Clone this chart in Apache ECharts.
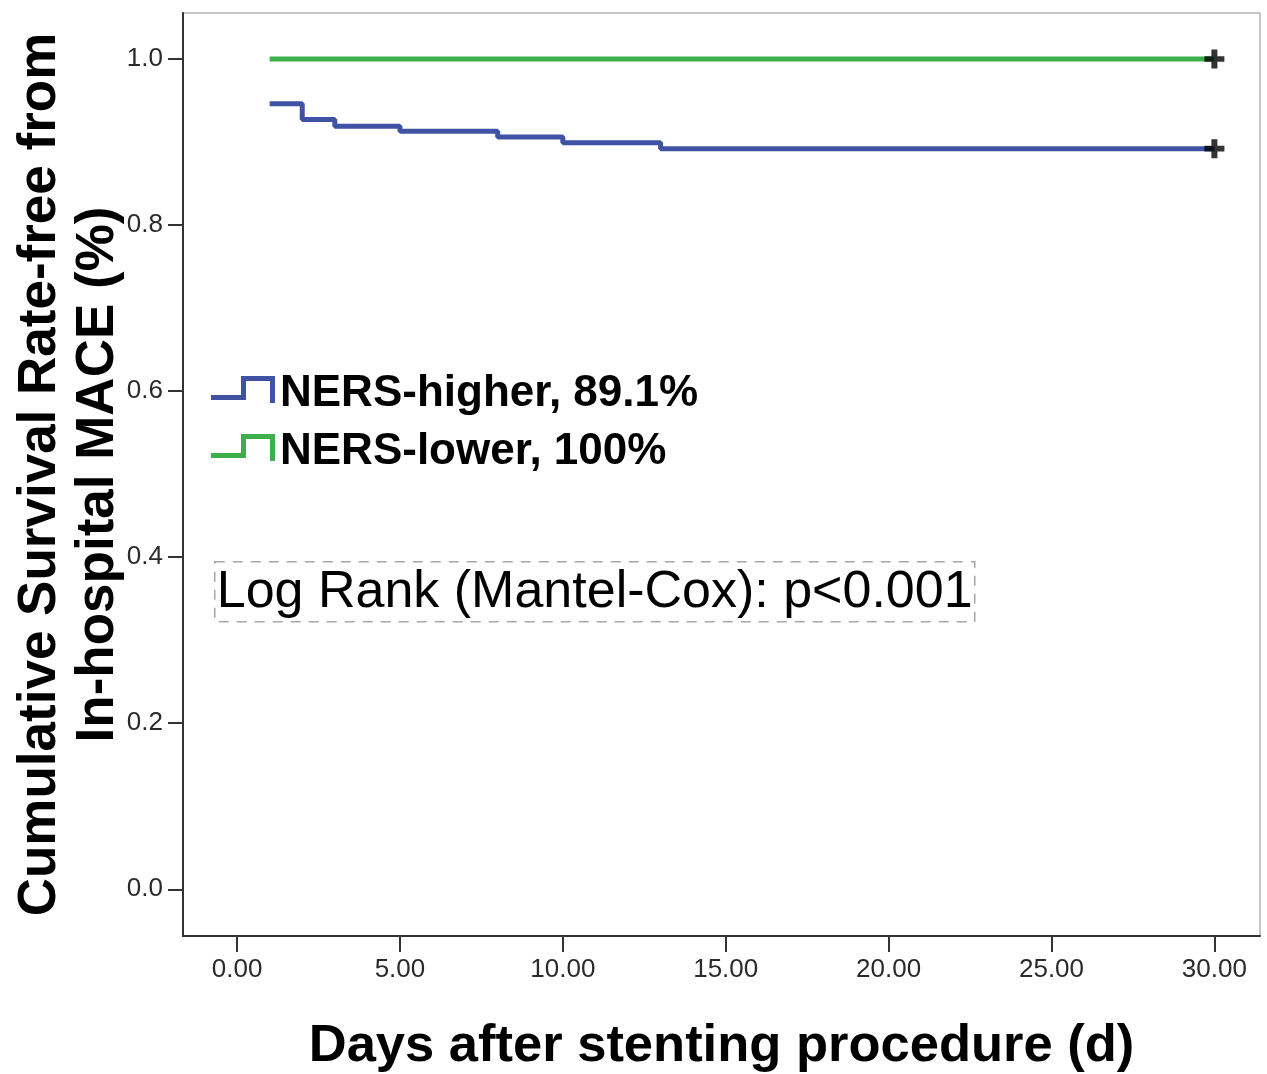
<!DOCTYPE html>
<html><head><meta charset="utf-8">
<script src="https://cdn.jsdelivr.net/npm/echarts@6/dist/echarts.min.js"></script>
<style>html,body{margin:0;padding:0;background:#fff}#c{width:1267px;height:1074px}</style>
</head><body><div id="c"></div>
<script>
// Data
const higherDays = [1, 2, 3, 5, 8, 10, 13, 30];
const higherSurv = [0.946, 0.927, 0.919, 0.913, 0.906, 0.899, 0.892, 0.892];
const lowerDays = [1, 30];
const lowerSurv = [1.0, 1.0];
const censorDays = [30, 30];
const censorSurv = [1.0, 0.892];
const xTicks = [0, 5, 10, 15, 20, 25, 30];
const yTicks = [0, 0.2, 0.4, 0.6, 0.8, 1.0];
const seriesNames = ['NERS-higher, 89.1%', 'NERS-lower, 100%'];
const annotation = 'Log Rank (Mantel-Cox): p<0.001';

const FONT = '"Liberation Sans", Arial, sans-serif';
const zip = (a, b) => a.map((v, i) => [v, b[i]]);

const chart = echarts.init(document.getElementById('c'));
chart.setOption({
  animation: false,
  backgroundColor: '#fff',
  grid: { left: 183, right: 7, top: 13, bottom: 138, show: true, borderColor: '#b4b4b4', borderWidth: 1.5,
          containLabel: false, outerBoundsMode: 'none' },
  xAxis: {
    type: 'value', min: -1.66, max: 31.4,
    splitLine: { show: false },
    axisLine: { show: true, onZero: false, lineStyle: { color: '#333', width: 2 } },
    axisTick: { show: true, length: 16, lineStyle: { color: '#333', width: 2 }, customValues: xTicks },
    axisLabel: { customValues: xTicks, formatter: v => v.toFixed(2), fontSize: 26, color: '#2a2a2a', fontFamily: FONT, margin: 21 },
    name: 'Days after stenting procedure (d)', nameLocation: 'middle', nameGap: 84, nameMoveOverlap: false,
    nameTextStyle: { fontSize: 52.5, fontWeight: 'bold', color: '#000', fontFamily: FONT }
  },
  yAxis: {
    type: 'value', min: -0.0563, max: 1.0554,
    splitLine: { show: false },
    axisLine: { show: true, onZero: false, lineStyle: { color: '#333', width: 2 } },
    axisTick: { show: true, length: 15, lineStyle: { color: '#333', width: 2 }, customValues: yTicks },
    axisLabel: { customValues: yTicks, formatter: v => v.toFixed(1), fontSize: 26, color: '#2a2a2a', fontFamily: FONT, margin: 20 },
    name: 'Cumulative Survival Rate-free from\nIn-hospital MACE (%)', nameLocation: 'middle', nameGap: 56, nameRotate: 90,
    nameMoveOverlap: false,
    nameTextStyle: { fontSize: 53, fontWeight: 'bold', color: '#000', fontFamily: FONT, lineHeight: 58, align: 'center' }
  },
  legend: {
    data: seriesNames, orient: 'vertical', left: 206, top: 364,
    itemWidth: 64, itemHeight: 40, itemGap: 8,
    icon: 'path://M0 0h0.01v0.01h-0.01Z M0 40h0.01v-0.01h-0.01Z M0 21H35V26H0Z M30 2H35V26H30Z M30 2H64V7H30Z M59 2H64V29H59Z',
    itemStyle: { borderWidth: 0 },
    textStyle: { fontSize: 44, fontWeight: 'bold', color: '#000', fontFamily: FONT, lineHeight: 50, padding: [0, 0, 0, 0] }
  },
  graphic: [{
    type: 'group', left: 214, top: 561, silent: true,
    children: [
      { type: 'rect', shape: { x: 0, y: 0, width: 760, height: 60 }, style: { fill: '#fff', stroke: '#a8a8a8', lineWidth: 1.5, lineDash: [10, 8] } },
      { type: 'text', x: 2, y: 31, style: { text: annotation, font: '52px ' + FONT, fill: '#000', verticalAlign: 'middle' } }
    ]
  }],
  series: [
    { name: seriesNames[0], type: 'line', step: 'end', data: zip(higherDays, higherSurv), showSymbol: false, symbol: 'none',
      color: '#3f52a3', lineStyle: { width: 5, color: '#3f52a3' } },
    { name: seriesNames[1], type: 'line', step: 'end', data: zip(lowerDays, lowerSurv), showSymbol: false, symbol: 'none',
      color: '#3cae4a', lineStyle: { width: 5, color: '#3cae4a' } },
    { name: 'censored', type: 'scatter', data: zip(censorDays, censorSurv), symbol: 'path://M7 0H13V20H7Z M0 7H20V13H0Z',
      symbolSize: [20, 19], itemStyle: { color: '#000' }, z: 5 }
  ]
});
</script></body></html>
